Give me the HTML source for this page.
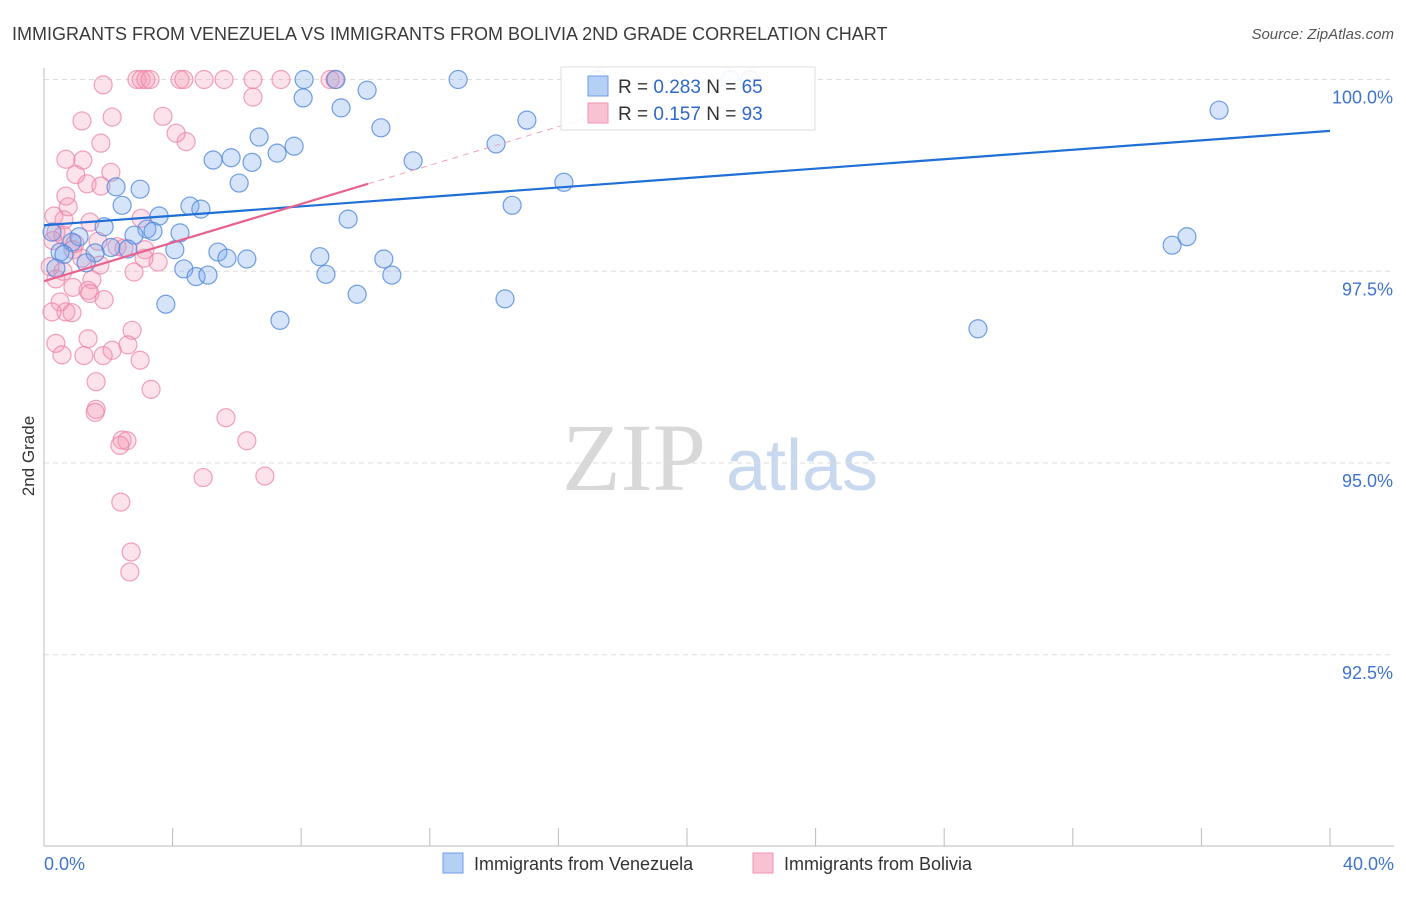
<!DOCTYPE html>
<html><head><meta charset="utf-8"><style>
body{margin:0;background:#fff;font-family:"Liberation Sans",sans-serif;}
</style></head><body>
<svg id="chart" width="1406" height="892" xmlns="http://www.w3.org/2000/svg" style="font-family:'Liberation Sans',sans-serif">
<text x="12" y="40" font-size="18" fill="#3a3a3a">IMMIGRANTS FROM VENEZUELA VS IMMIGRANTS FROM BOLIVIA 2ND GRADE CORRELATION CHART</text>
<text x="1394" y="39" font-size="15" fill="#555" text-anchor="end" font-style="italic">Source: ZipAtlas.com</text>
<text transform="translate(34,456) rotate(-90)" font-size="17" fill="#333" text-anchor="middle">2nd Grade</text>
<g>
<text x="634" y="490" font-size="96" fill="#d8d8d8" font-family="Liberation Serif,serif" text-anchor="middle">ZIP</text>
<text x="802" y="490" font-size="72" fill="#c8d8ee" text-anchor="middle">atlas</text>
</g>
<g id="grid"></g><g id="axes"></g><g id="pts"></g><g id="trends"></g>
<g>
<rect x="561" y="67" width="254" height="63" fill="#fff" stroke="#ddd" fill-opacity="0.9"/>
<rect x="588" y="76" width="20" height="20" fill="#b6cff5" stroke="#6e9ee6"/>
<rect x="588" y="103" width="20" height="20" fill="#f8c2d2" stroke="#f095b3"/>
<text x="618" y="93" font-size="19" fill="#333">R = <tspan fill="#2f68c8">0.283</tspan>   N = <tspan fill="#2f68c8">65</tspan></text>
<text x="618" y="120" font-size="19" fill="#333">R =  <tspan fill="#2f68c8">0.157</tspan>   N = <tspan fill="#2f68c8">93</tspan></text>
</g>
<g>
<rect x="443" y="853" width="20" height="20" fill="#b6cff5" stroke="#6e9ee6"/>
<text x="474" y="870" font-size="18" fill="#333">Immigrants from Venezuela</text>
<rect x="753" y="853" width="20" height="20" fill="#f8c2d2" stroke="#f095b3"/>
<text x="784" y="870" font-size="18" fill="#333">Immigrants from Bolivia</text>
</g>
</svg>
<script>
const yTicks=[100,97.5,95,92.5];
const yTickLabels=["100.0%","97.5%","95.0%","92.5%"];
const xTicks=[0,4,8,12,16,20,24,28,32,36,40];
const xEndLabels=["0.0%","40.0%"];
const blueX=[8.09,9.08,12.88,17.23,21.34,21.96,8.06,10.05,9.24,10.48,15.02,36.55,6.69,7.78,7.25,5.26,5.82,6.47,11.48,14.06,6.07,16.17,2.24,2.99,2.43,4.54,4.88,3.58,9.46,14.56,1.87,3.20,3.39,4.23,2.80,0.25,1.09,0.87,2.08,2.61,0.50,1.59,5.41,4.07,5.69,6.31,8.58,10.57,1.31,4.35,4.73,5.10,8.77,10.82,9.74,3.79,14.34,7.34,29.05,35.09,35.55,0.62,0.37];
const blueY=[100,100,100,100,100,100,99.76,99.86,99.63,99.37,99.47,99.60,99.25,99.13,99.04,98.95,98.98,98.92,98.94,99.16,98.65,98.66,98.60,98.57,98.36,98.35,98.31,98.22,98.18,98.36,98.08,98.05,98.02,98.00,97.97,98.01,97.95,97.88,97.81,97.79,97.75,97.74,97.75,97.78,97.67,97.66,97.69,97.66,97.61,97.53,97.43,97.45,97.46,97.45,97.20,97.07,97.14,96.86,96.75,97.84,97.95,97.72,97.54];
const pinkX=[2.89,3.02,3.17,3.30,4.23,4.35,4.98,5.60,6.50,7.37,8.90,9.05,1.84,6.50,1.18,2.12,3.70,4.42,4.11,1.77,0.68,1.21,2.08,0.99,1.34,1.77,0.68,0.75,0.31,0.62,1.43,3.02,0.37,0.59,0.28,0.96,1.68,2.27,2.49,3.14,0.90,1.18,1.74,3.55,3.11,0.19,0.59,2.80,0.37,1.49,0.90,1.37,1.43,0.50,1.87,0.68,0.25,0.87,1.37,2.74,0.37,2.61,0.56,1.24,1.84,2.12,2.99,1.62,3.33,1.62,1.59,5.66,2.43,2.58,2.36,6.31,4.95,6.87,2.39,2.71,2.67];
const pinkY=[100,100,100,100,100,100,100,100,100,100,100,100,99.93,99.77,99.46,99.51,99.52,99.19,99.30,99.17,98.96,98.95,98.79,98.76,98.64,98.61,98.48,98.34,98.22,98.17,98.14,98.19,98.01,97.97,97.90,97.86,97.89,97.82,97.80,97.78,97.78,97.67,97.58,97.62,97.67,97.56,97.50,97.49,97.40,97.39,97.29,97.25,97.21,97.10,97.13,96.97,96.97,96.96,96.62,96.73,96.56,96.54,96.41,96.40,96.40,96.47,96.34,96.06,95.96,95.70,95.66,95.59,95.30,95.29,95.23,95.29,94.81,94.83,94.49,93.84,93.58];
const blueTrendX=[0,40];
const blueTrendY=[98.10,99.33];
const pinkTrendX=[0,10.08];
const pinkTrendY=[97.37,98.64];
const pinkDashX=[10.08,17.3];
const pinkDashY=[98.64,99.55];

const X0=44,X1=1330,Y100=79.5,PXPER=76.7;
const sx=v=>X0+(v/40)*(X1-X0);
const sy=v=>Y100+(100-v)*PXPER;
const NS="http://www.w3.org/2000/svg";
function mk(tag,parent,attrs){const e=document.createElementNS(NS,tag);for(const k in attrs)e.setAttribute(k,attrs[k]);parent.appendChild(e);return e;}
const grid=document.getElementById('grid'),axes=document.getElementById('axes'),pts=document.getElementById('pts'),tr=document.getElementById('trends');
yTicks.forEach((t,i)=>{
 const l=mk('line',grid,{x1:X0,x2:1394,y1:sy(t),y2:sy(t),stroke:'#ddd','stroke-dasharray':'5,4'});
 
 
 const tx=mk('text',axes,{x:1393,y:sy(t)+24,'font-size':18,fill:'#3f74cc','text-anchor':'end'});
 tx.textContent=yTickLabels[i];
 
 
});
const ya=mk('line',axes,{x1:X0,x2:X0,y1:68,y2:846,stroke:'#bbb'});


const xa=mk('line',axes,{x1:X0,x2:1394,y1:846,y2:846,stroke:'#bbb'});


xTicks.forEach(t=>{
 const l=mk('line',axes,{x1:sx(t),x2:sx(t),y1:828,y2:846,stroke:'#bbb'});
 
 
});
const xl0=mk('text',axes,{x:44,y:870,'font-size':18,fill:'#3f74cc'});
xl0.textContent=xEndLabels[0];


const xl1=mk('text',axes,{x:1394,y:870,'font-size':18,fill:'#3f74cc','text-anchor':'end'});
xl1.textContent=xEndLabels[1];


pinkX.forEach((v,i)=>{
 const c=mk('circle',pts,{cx:sx(v),cy:sy(pinkY[i]),r:9,fill:'rgba(244,150,180,0.28)',stroke:'rgba(238,130,165,0.75)','stroke-width':1.2});
 
 
});
blueX.forEach((v,i)=>{
 const c=mk('circle',pts,{cx:sx(v),cy:sy(blueY[i]),r:9,fill:'rgba(120,165,235,0.3)',stroke:'rgba(80,135,220,0.8)','stroke-width':1.2});
 
 
});
const bt=mk('line',tr,{x1:sx(blueTrendX[0]),y1:sy(blueTrendY[0]),x2:sx(blueTrendX[1]),y2:sy(blueTrendY[1]),stroke:'#1f6fd6','stroke-width':2.2});


const pt=mk('line',tr,{x1:sx(pinkTrendX[0]),y1:sy(pinkTrendY[0]),x2:sx(pinkTrendX[1]),y2:sy(pinkTrendY[1]),stroke:'#e8628f','stroke-width':2.2});


const pd=mk('line',tr,{x1:sx(pinkDashX[0]),y1:sy(pinkDashY[0]),x2:sx(pinkDashX[1]),y2:sy(pinkDashY[1]),stroke:'#f0a0b8','stroke-width':1,'stroke-dasharray':'6,5'});


</script>
</body></html>
